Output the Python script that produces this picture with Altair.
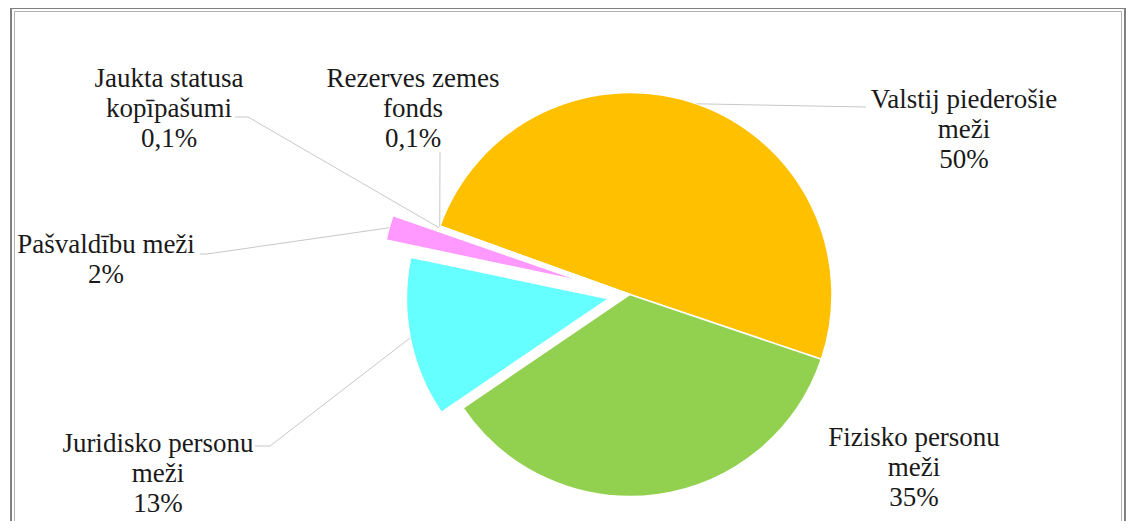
import math
import altair as alt
import pandas as pd

# ---- data ----
categories = [
    "Valstij piederošie\nmeži",
    "Fizisko personu\nmeži",
    "Juridisko personu\nmeži",
    "Pašvaldību meži",
    "Jaukta statusa\nkopīpašumi",
    "Rezerves zemes\nfonds",
]
shares = [49.7, 35.3, 12.8, 2.0, 0.1, 0.1]
colors = ["#FFC000", "#92D050", "#66FFFF", "#FF99FF", "#CC99FF", "#FFFF99"]


def pct_text(v):
    if v >= 1:
        return f"{round(v):d}%"
    return f"{v:.1f}%".replace(".", ",")


# ---- layout (chart pixel coordinates) ----
CX, CY, R = 622, 286.5, 202
START = math.radians(-70.2)
explode = {0: 0, 1: 0, 2: 22, 3: 48, 4: 0, 5: 0}
# centre of the first text line of each label
label_pos = {0: (956, 92), 1: (906, 430), 2: (150, 436), 3: (98, 237),
             4: (161, 71), 5: (405, 71)}
# elbow point and end point of leader lines (None = no leader)
leader = {0: ((858, 99), (858, 99)), 1: None, 2: ((262, 438), (247, 438)),
          3: ((199, 246), (192, 246)), 4: ((240, 109), (227, 109)),
          5: ((432, 144), (432, 144))}

rows = []
for i, (c, v) in enumerate(zip(categories, shares)):
    ld = leader[i]
    rows.append({
        "idx": i, "name": c, "value": v,
        "label": c + "\n" + pct_text(v),
        "explode": explode[i],
        "lx": label_pos[i][0], "ly": label_pos[i][1],
        "has_leader": ld is not None,
        "ex": ld[0][0] if ld else 0, "ey": ld[0][1] if ld else 0,
        "tx": ld[1][0] if ld else 0, "ty": ld[1][1] if ld else 0,
    })
df = pd.DataFrame(rows)

base = (
    alt.Chart(df)
    .transform_joinaggregate(total="sum(value)")
    .transform_window(cum="sum(value)", sort=[alt.SortField("idx")], frame=[None, 0])
    .transform_calculate(
        start=f"{START} + 2*PI*(datum.cum - datum.value)/datum.total",
        end=f"{START} + 2*PI*datum.cum/datum.total",
    )
    .transform_calculate(mid="(datum.start + datum.end)/2")
    .transform_calculate(
        cx=f"{CX} + datum.explode*sin(datum.mid)",
        cy=f"{CY} - datum.explode*cos(datum.mid)",
    )
    .transform_calculate(
        ax=f"datum.cx + {R}*sin(datum.mid)",
        ay=f"datum.cy - {R}*cos(datum.mid)",
    )
)

arcs = base.mark_arc(radius=R, stroke="white", strokeWidth=1.5).encode(
    theta=alt.Theta("start:Q", scale=None),
    theta2=alt.Theta2("end:Q"),
    x=alt.X("cx:Q", scale=None, axis=None),
    y=alt.Y("cy:Q", scale=None, axis=None),
    color=alt.Color("name:N", scale=alt.Scale(domain=categories, range=colors), legend=None),
    order=alt.Order("idx:Q"),
)

lead1 = base.transform_filter("datum.has_leader").mark_rule(color="#C8C8C8", strokeWidth=1).encode(
    x=alt.X("ax:Q", scale=None, axis=None),
    y=alt.Y("ay:Q", scale=None, axis=None),
    x2="ex:Q",
    y2="ey:Q",
)
lead2 = base.transform_filter("datum.has_leader").mark_rule(color="#C8C8C8", strokeWidth=1).encode(
    x=alt.X("ex:Q", scale=None, axis=None),
    y=alt.Y("ey:Q", scale=None, axis=None),
    x2="tx:Q",
    y2="ty:Q",
)

text = base.mark_text(
    font="Liberation Serif", fontSize=27, lineHeight=30, lineBreak="\n",
    align="center", baseline="middle", color="#1A1A1A",
).encode(
    x=alt.X("lx:Q", scale=None, axis=None),
    y=alt.Y("ly:Q", scale=None, axis=None),
    text="label:N",
)

frame_df = pd.DataFrame({"k": [0]})
frame_outer = alt.Chart(frame_df).mark_rect(fillOpacity=0, stroke="#808080", strokeWidth=2).encode(
    x=alt.value(3), x2=alt.value(1117), y=alt.value(0), y2=alt.value(560)
)
frame_inner = alt.Chart(frame_df).mark_rect(fillOpacity=0, stroke="#B0B0B0", strokeWidth=1).encode(
    x=alt.value(6.5), x2=alt.value(1113.5), y=alt.value(3.5), y2=alt.value(560)
)

chart = (
    alt.layer(frame_outer, frame_inner, arcs, lead1, lead2, text)
    .properties(width=1119, height=513, padding=0, autosize=alt.AutoSizeParams(type="none"))
    .configure_view(strokeWidth=0)
)

chart.save("out.html", embed_options={"renderer": "svg", "actions": False})
